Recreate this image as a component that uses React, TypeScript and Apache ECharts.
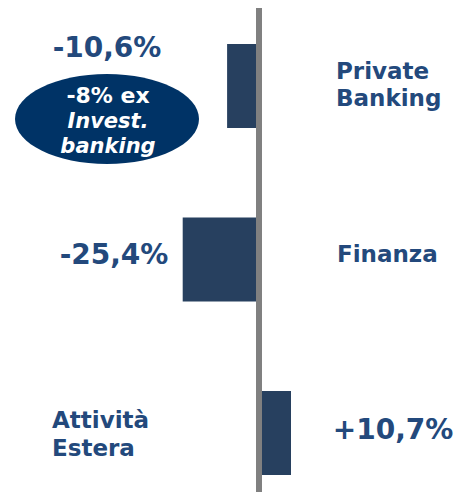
import React, { useEffect, useRef } from "react";
import * as echarts from "echarts";

const categories = ["Private Banking", "Finanza", "Attività Estera"];
const changes = [-10.6, -25.4, 10.7];
const noteLines = ["-8% ex", "Invest.", "banking"];

const TEXT = "#23497c";
const BAR = "#27405f";
const FONT = "'DejaVu Sans', Verdana, sans-serif";

const fmt = (v: number) => (v > 0 ? "+" : "") + v.toFixed(1).replace(".", ",") + "%";

export default function App() {
  const ref = useRef<HTMLDivElement>(null);
  useEffect(() => {
    if (!ref.current) return;
    const chart = echarts.init(ref.current, undefined, { renderer: "svg" });
    const xMin = -86.3;
    const xMax = 65.7;
    const catText = categories.map((c) => c.replace(" ", "\n"));
    chart.setOption({
      animation: false,
      backgroundColor: "#ffffff",
      grid: [
        { left: 0, right: 0, top: -0.75, height: 520.5, outerBoundsMode: "none", containLabel: false },
        { left: 0, right: 0, top: 8, bottom: 0, outerBoundsMode: "none", containLabel: false },
      ],
      xAxis: [
        { type: "value", gridIndex: 0, min: xMin, max: xMax, show: false },
        { type: "value", gridIndex: 1, min: xMin, max: xMax, show: false },
      ],
      yAxis: [
        {
          type: "category",
          gridIndex: 0,
          data: categories,
          inverse: true,
          axisLine: { show: false },
          axisTick: { show: false },
          axisLabel: { show: false },
          splitLine: { show: false },
        },
        {
          type: "category",
          gridIndex: 1,
          data: categories,
          inverse: true,
          z: 10,
          axisLine: { show: true, onZero: true, lineStyle: { color: "#808080", width: 6, cap: "butt" } },
          axisTick: { show: false },
          axisLabel: { show: false },
          splitLine: { show: false },
        },
      ],
      series: [
        {
          type: "bar",
          xAxisIndex: 0,
          yAxisIndex: 0,
          data: changes,
          barWidth: 84,
          itemStyle: { color: BAR },
          label: { show: false },
        },
      ],
      graphic: [
        {
          type: "ellipse",
          shape: { cx: 107, cy: 119, rx: 92, ry: 45 },
          style: { fill: "#003366" },
          z: 5,
        },
        {
          type: "text",
          x: 108,
          y: 120.5,
          z: 6,
          style: {
            text: `{a|${noteLines[0]}}\n{b|${noteLines[1]}}\n{b|${noteLines[2]}}`,
            align: "center",
            verticalAlign: "middle",
            fill: "#ffffff",
            rich: {
              a: { fontFamily: FONT, fontSize: 22, fontWeight: "bold", fill: "#ffffff", lineHeight: 25.5, align: "center" },
              b: { fontFamily: FONT, fontSize: 21, fontWeight: "bold", fontStyle: "italic", fill: "#ffffff", lineHeight: 25.5, align: "center" },
            },
          },
        },
        {
          type: "text",
          x: 107,
          y: 47,
          style: { text: fmt(changes[0]), align: "center", verticalAlign: "middle", fontFamily: FONT, fontSize: 28, fontWeight: "bold", fill: TEXT },
        },
        {
          type: "text",
          x: 114,
          y: 254,
          style: { text: fmt(changes[1]), align: "center", verticalAlign: "middle", fontFamily: FONT, fontSize: 28, fontWeight: "bold", fill: TEXT },
        },
        {
          type: "text",
          x: 393,
          y: 429,
          style: { text: fmt(changes[2]), align: "center", verticalAlign: "middle", fontFamily: FONT, fontSize: 28, fontWeight: "bold", fill: TEXT },
        },
        {
          type: "text",
          x: 336,
          y: 84,
          style: { text: catText[0], align: "left", verticalAlign: "middle", fontFamily: FONT, fontSize: 23, fontWeight: "bold", lineHeight: 27, fill: TEXT },
        },
        {
          type: "text",
          x: 337,
          y: 254,
          style: { text: catText[1], align: "left", verticalAlign: "middle", fontFamily: FONT, fontSize: 23, fontWeight: "bold", lineHeight: 27, fill: TEXT },
        },
        {
          type: "text",
          x: 52,
          y: 434,
          style: { text: catText[2], align: "left", verticalAlign: "middle", fontFamily: FONT, fontSize: 23, fontWeight: "bold", lineHeight: 28.5, fill: TEXT },
        },
      ],
    });
    return () => chart.dispose();
  }, []);
  return (
    <div
      ref={ref}
      style={{ position: "absolute", left: 0, top: 0, width: 456, height: 492 }}
    />
  );
}
